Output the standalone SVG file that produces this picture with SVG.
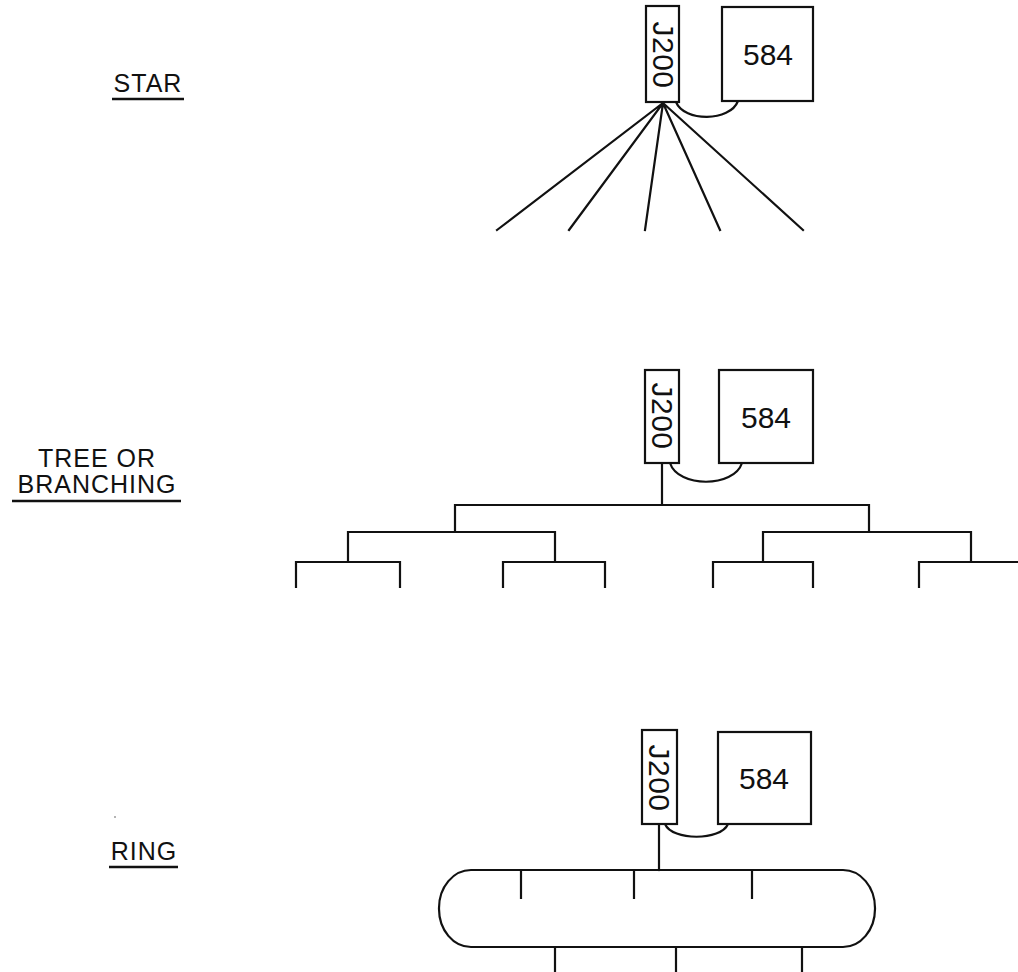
<svg xmlns="http://www.w3.org/2000/svg" width="1018" height="972" viewBox="0 0 1018 972">
<style>
.box{fill:#fff;stroke:#111;stroke-width:2.2}
.ln{fill:none;stroke:#111;stroke-width:2.2;stroke-linecap:square;stroke-linejoin:miter}
.lbl{font-family:"Liberation Sans",Arial,sans-serif;font-size:25px;letter-spacing:1px;fill:#111;text-anchor:middle}
.num{font-family:"Liberation Sans",Arial,sans-serif;font-size:30px;fill:#111;text-anchor:middle}
.jt{font-family:"Liberation Sans",Arial,sans-serif;font-size:30px;letter-spacing:0.5px;fill:#111;text-anchor:middle;dominant-baseline:central}
.ul{stroke:#111;stroke-width:2.4}
</style>
<rect width="1018" height="972" fill="#fff"/>

<g id="labels">
  <text class="lbl" x="148" y="92">STAR</text>
  <line class="ul" x1="112" y1="99" x2="184" y2="99"/>
  <text class="lbl" x="97" y="467">TREE OR</text>
  <text class="lbl" x="97" y="493">BRANCHING</text>
  <line class="ul" x1="12" y1="501" x2="181" y2="501"/>
  <text class="lbl" x="144" y="860">RING</text>
  <line class="ul" x1="109" y1="867" x2="178" y2="867"/>
  <circle cx="115" cy="817" r="0.8" fill="#555"/>
</g>

<g id="connectors">
  <!-- star -->
  <path class="ln" d="M676,102 C684,122 730,122 738,101"/>
  <path class="ln" d="M663,103 L497,230 M663,103 L569,230 M663,103 L645,230 M663,103 L720,230 M663,103 L803,230"/>
  <!-- tree -->
  <path class="ln" d="M670,463 C678,488 734,488 742,463"/>
  <path class="ln" d="M662,463 V505 M455,532 V505 H869 V532"/>
  <path class="ln" d="M348,562 V532 H555 V562 M763,562 V532 H971 V562"/>
  <path class="ln" d="M296,587 V562 H400 V587 M503,587 V562 H605 V587 M713,587 V562 H813 V587 M919,587 V562 H1020"/>
  <!-- ring -->
  <path class="ln" d="M665,824 C672,841 721,841 728,824"/>
  <path class="ln" d="M659,824 V870"/>
  <rect class="ln" x="439" y="870" width="436" height="77" rx="32" ry="38"/>
  <path class="ln" d="M521,870 V898 M634,870 V898 M752,870 V898"/>
  <path class="ln" d="M555,947 V975 M676,947 V975 M802,947 V975"/>
</g>

<g id="star-j200">
  <rect class="box" x="646" y="6" width="33" height="96"/>
  <text class="jt" transform="translate(663,55) rotate(90)">J200</text>
</g>
<g id="star-584">
  <rect class="box" x="722" y="7" width="91" height="94"/>
  <text class="num" x="768" y="65">584</text>
</g>

<g id="tree-j200">
  <rect class="box" x="645" y="370" width="34" height="93"/>
  <text class="jt" transform="translate(662,416) rotate(90)">J200</text>
</g>
<g id="tree-584">
  <rect class="box" x="719" y="370" width="94" height="93"/>
  <text class="num" x="766" y="428">584</text>
</g>

<g id="ring-j200">
  <rect class="box" x="642" y="730" width="35" height="94"/>
  <text class="jt" transform="translate(659.5,778) rotate(90)">J200</text>
</g>
<g id="ring-584">
  <rect class="box" x="718" y="732" width="93" height="92"/>
  <text class="num" x="764" y="789">584</text>
</g>
</svg>
